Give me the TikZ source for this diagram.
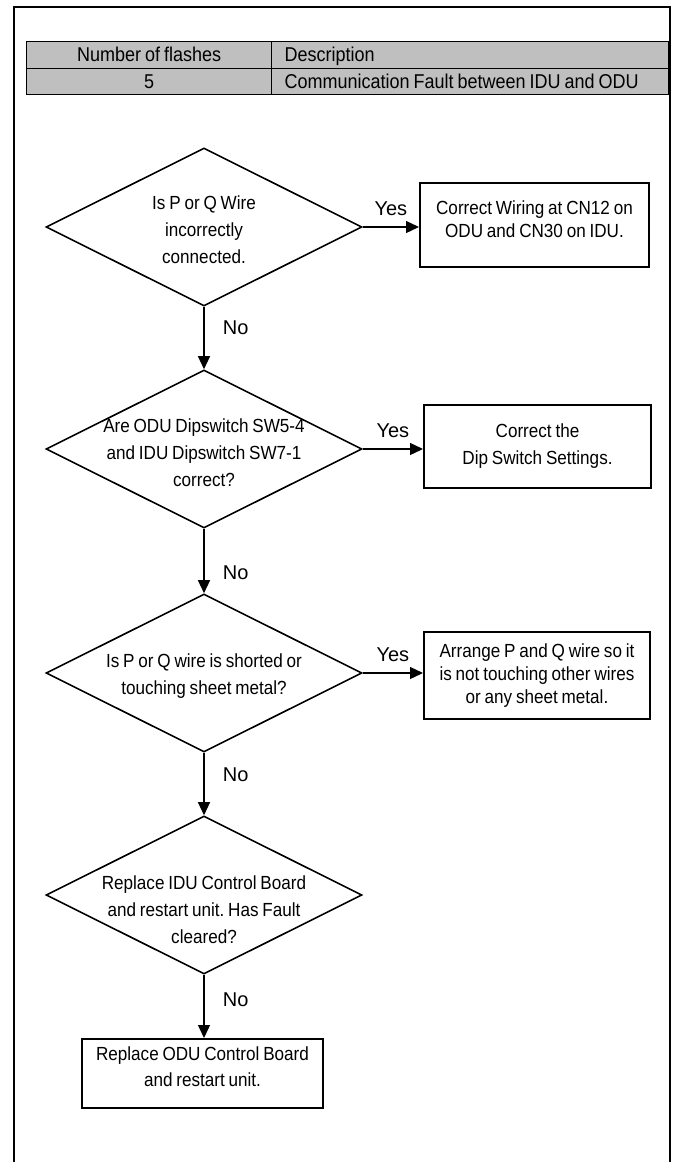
\documentclass[tikz,border=0pt]{standalone}
\usepackage{fontspec}
\setmainfont{Liberation Sans}
\newfontfamily\narrowsans{Liberation Sans}[FakeStretch=0.9,WordSpace=0.8]
\usetikzlibrary{arrows.meta,positioning,shapes.geometric}
\definecolor{cellgray}{HTML}{BFBFBF}
\frenchspacing

\begin{document}
\begin{tikzpicture}[x=1pt,y=-1pt,
   hd/.style={draw,line width=1.2pt,fill=cellgray,anchor=north west,minimum height=26.5pt,
             inner ysep=0pt,text height=14pt,text depth=0pt,font=\narrowsans\fontsize{20}{24}\selectfont},
   dq/.style={draw,diamond,line width=1.6pt,minimum width=316pt,minimum height=158pt,inner sep=0pt},
   tx/.style={align=center,inner sep=0pt,font=\narrowsans\fontsize{19}{27}\selectfont},
   bx/.style={draw,line width=2pt,align=center,inner sep=0pt,font=\narrowsans\fontsize{19}{23}\selectfont},
   fl/.style={-{Triangle[length=13pt,width=12pt]},line width=1.3pt},
   lb/.style={font=\fontsize{20}{24}\selectfont}]
  \useasboundingbox (0,0) rectangle (681,1162);
  \draw[line width=1.5pt] (14,1162) -- (14,7) -- (670,7) -- (670,1162);

  \node[hd,minimum width=245pt] (h1) at (26,41) {Number of flashes};
  \node[hd,minimum width=397pt,text width=371pt,align=flush left,inner xsep=13pt] (h2) at (271,41) {Description};
  \node[hd,minimum width=245pt] (v1) at (26,67.5) {5};
  \node[hd,minimum width=397pt,text width=371pt,align=flush left,inner xsep=13pt] (v2) at (271,67.5)
       {Communication Fault between IDU and ODU};

  \node[dq] (q1) at (204,227) {};
  \node[dq] (q2) at (204,449) {};
  \node[dq] (q3) at (204,673) {};
  \node[dq] (q4) at (204,895) {};
  \node[tx] (t1) at (204,230) {Is P or Q Wire\\incorrectly\\connected.};
  \node[tx] (t2) at (204,453) {Are ODU Dipswitch SW5-4\\and IDU Dipswitch SW7-1\\correct?};
  \node[tx] (t3) at (204,676) {Is P or Q wire is shorted or\\touching sheet metal?};
  \node[tx] (t4) at (204,910) {Replace IDU Control Board\\and restart unit. Has Fault\\cleared?};

  \node[bx,minimum width=229pt,minimum height=84pt] (r1) at (534.5,225)
       {Correct Wiring at CN12 on\\ODU and CN30 on IDU.\\[-11pt]\mbox{}};
  \node[bx,minimum width=227pt,minimum height=83pt,font=\narrowsans\fontsize{19}{27}\selectfont] (r2) at (537.5,446.5)
       {Correct the\\Dip Switch Settings.};
  \node[bx,minimum width=226pt,minimum height=87pt] (r3) at (537,675.5)
       {Arrange P and Q wire so it\\is not touching other wires\\or any sheet metal.};
  \node[bx,minimum width=241pt,minimum height=69pt,font=\narrowsans\fontsize{19}{26}\selectfont] (r4) at (202.5,1073.5)
       {Replace ODU Control Board\\and restart unit.\\[-12pt]\mbox{}};

  \foreach \q/\r in {q1/r1,q2/r2,q3/r3}
    \draw[fl] (\q.east) -- (\q.east -| \r.west) node[midway,above=7pt,lb] {Yes};
  \foreach \a/\b/\p in {q1/q2/0.33,q2/q3/0.68,q3/q4/0.35,q4/r4/0.4}
    \draw[fl] (\a.south) -- (\a.south |- \b.north) node[pos=\p,right=15pt,lb] {No};
\end{tikzpicture}
\end{document}
